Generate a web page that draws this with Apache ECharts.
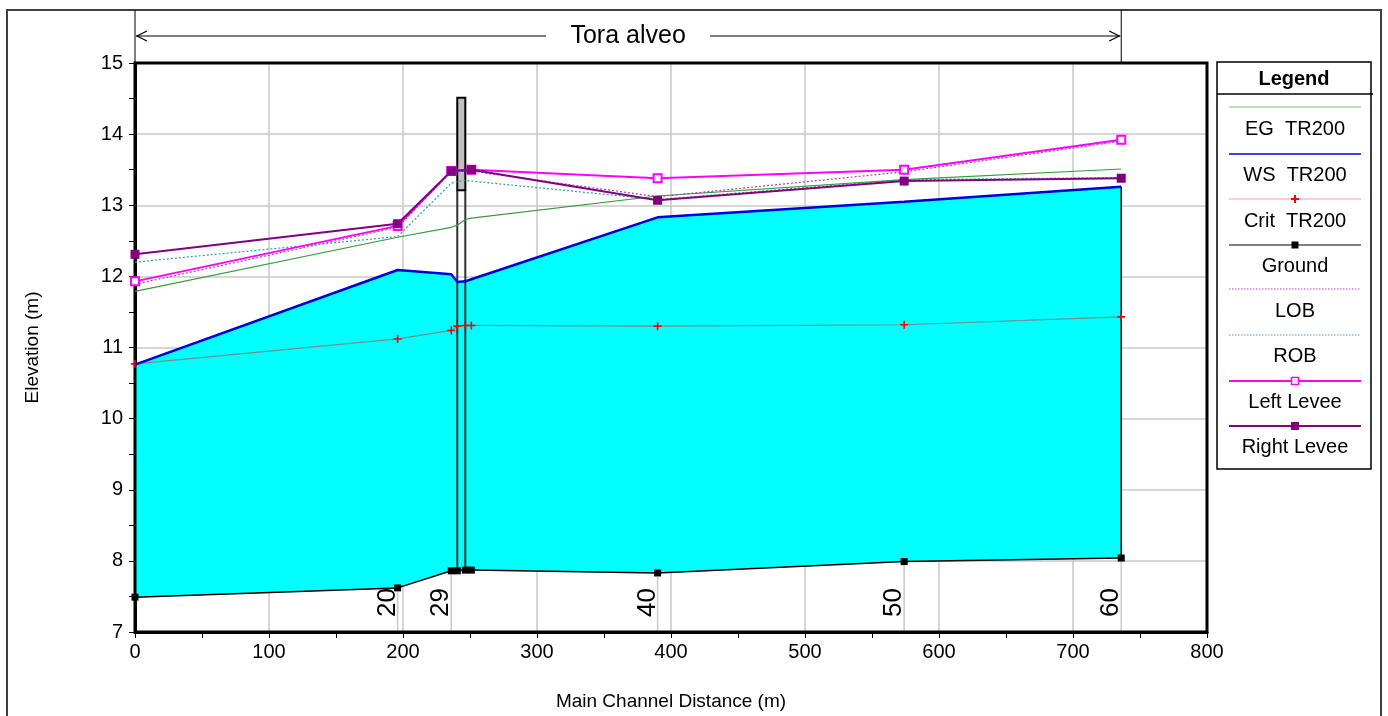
<!DOCTYPE html>
<html><head><meta charset="utf-8">
<script src="https://cdn.jsdelivr.net/npm/echarts@6/dist/echarts.min.js"></script>
<style>html,body{margin:0;padding:0;background:#fff}#c{width:1388px;height:716px}</style>
</head><body><div id="c"></div>
<script>
// ---------------- data ----------------
const stations   = [0, 196, 236, 240.5, 246.5, 251, 390, 574, 736];
const ground     = [7.49, 7.62, 7.86, 7.86, 7.87, 7.87, 7.83, 7.99, 8.04];
const wsTR200    = [10.76, 12.09, 12.03, 11.92, 11.93, 11.96, 12.83, 13.05, 13.26];
const critTR200  = [10.77, 11.12, 11.24, 11.30, 11.31, 11.31, 11.30, 11.32, 11.43];
const egTR200    = [11.79, 12.55, 12.69, 12.72, 12.80, 12.82, 13.13, 13.36, 13.51];
const lob        = [11.89, 12.69, 13.47, 13.47, 13.48, 13.48, 13.12, 13.47, 13.90];
const rob        = [12.20, 12.56, 13.31, 13.33, 13.35, 13.34, 13.08, 13.36, 13.39];
const leftLevee  = [11.93, 12.71, 13.48, null, null, 13.50, 13.38, 13.50, 13.92];
const rightLevee = [12.31, 12.74, 13.48, null, null, 13.50, 13.07, 13.34, 13.38];
const bridgeX    = [240.5, 246.5];
const bridgeDeck = [13.21, 14.51];
const stationLabels = ['20', '29', '40', '50', '60'];
const stationLabelX = [196, 236, 390, 574, 736];
const reachName  = 'Tora alveo';
const reachRange = [0, 736];
const seriesNames = ['EG  TR200', 'WS  TR200', 'Crit  TR200', 'Ground', 'LOB', 'ROB', 'Left Levee', 'Right Levee'];
const xRange = [0, 800], xStep = 100;
const yRange = [7, 15], yStep = 1;

// ---------------- chart ----------------
const FONT = '"Liberation Sans", Arial, Helvetica, sans-serif';
const chart = echarts.init(document.getElementById('c'), null, {renderer: 'canvas'});
const pair = arr => stations.map((s, i) => [s, arr[i]]);
const gAt = x => ground[stations.indexOf(x)];

const plusPath = 'path://M4,0H6V4H10V6H6V10H4V6H0V4H4Z';
const styles = {
  'EG  TR200':   {color: '#3a9a3a', width: 1.2, type: 'solid', symbol: 'none'},
  'WS  TR200':   {color: '#0000dd', width: 2.5, type: 'solid', symbol: 'none'},
  'Crit  TR200': {color: 'rgba(255,0,0,0.45)', width: 1.2, type: 'solid', symbol: plusPath, size: 8, sColor: '#ff0000'},
  'Ground':      {color: '#000000', width: 1.5, type: 'solid', symbol: 'rect', size: 7, sColor: '#000000'},
  'LOB':         {color: '#b040b0', width: 1.2, type: [2, 2], symbol: 'none'},
  'ROB':         {color: '#30a0a0', width: 1.2, type: [2, 2], symbol: 'none'},
  'Left Levee':  {color: '#ff00ff', width: 2, type: 'solid', symbol: 'emptyRect', size: 8, sColor: '#ff00ff'},
  'Right Levee': {color: '#800080', width: 2, type: 'solid', symbol: 'rect', size: 9, sColor: '#800080'}
};
const seriesData = {
  'EG  TR200': egTR200, 'WS  TR200': wsTR200, 'Crit  TR200': critTR200, 'Ground': ground,
  'LOB': lob, 'ROB': rob, 'Left Levee': leftLevee, 'Right Levee': rightLevee
};
const drawOrder = ['Crit  TR200', 'Ground', 'WS  TR200', 'EG  TR200', 'LOB', 'ROB', 'Left Levee', 'Right Levee'];

const lineSeries = drawOrder.map((name, k) => {
  const st = styles[name];
  return {
    type: 'line', name: name, data: pair(seriesData[name]), connectNulls: true,
    symbol: st.symbol, symbolSize: st.size || 0, showSymbol: st.symbol !== 'none',
    lineStyle: {color: st.color, width: st.width, type: st.type},
    itemStyle: {color: st.sColor || st.color, borderWidth: st.symbol === 'emptyRect' ? 1.5 : 0, borderColor: st.sColor || st.color},
    z: 5 + k, animation: false, silent: true
  };
});

const option = {
  backgroundColor: '#ffffff',
  animation: false,
  grid: {left: 135, right: 181, top: 63, bottom: 83, show: false},
  xAxis: {
    type: 'value', min: xRange[0], max: xRange[1], interval: xStep,
    name: 'Main Channel Distance (m)', nameLocation: 'middle', nameGap: 60,
    nameTextStyle: {fontFamily: FONT, fontSize: 19, color: '#000'},
    axisLine: {show: true, onZero: false, lineStyle: {color: '#000', width: 3}},
    axisTick: {show: true, length: 6, lineStyle: {color: '#000', width: 1}},
    minorTick: {show: true, splitNumber: 2, length: 6, lineStyle: {color: '#000', width: 1}},
    axisLabel: {fontFamily: FONT, fontSize: 20, color: '#000', margin: 10},
    splitLine: {show: true, lineStyle: {color: '#c8c8c8', width: 1.5}}
  },
  yAxis: {
    type: 'value', min: yRange[0], max: yRange[1], interval: yStep,
    name: 'Elevation (m)', nameLocation: 'middle', nameGap: 93,
    nameTextStyle: {fontFamily: FONT, fontSize: 19, color: '#000'},
    axisLine: {show: true, onZero: false, lineStyle: {color: '#000', width: 3}},
    axisTick: {show: true, length: 6, lineStyle: {color: '#000', width: 1}},
    minorTick: {show: true, splitNumber: 2, length: 6, lineStyle: {color: '#000', width: 1}},
    axisLabel: {fontFamily: FONT, fontSize: 20, color: '#000', margin: 12},
    splitLine: {show: true, lineStyle: {color: '#c8c8c8', width: 1.5}}
  },
  series: [
    {
      type: 'custom', name: 'fill', silent: true, z: 1,
      data: stations.map((s, i) => [s, ground[i], wsTR200[i]]),
      encode: {x: 0, y: [1, 2]},
      renderItem: (params, api) => {
        if (params.dataIndex !== 0) return null;
        const top = stations.map((s, i) => api.coord([s, wsTR200[i]]));
        const bot = stations.map((s, i) => api.coord([s, ground[i]])).reverse();
        const last = top.length - 1;
        return {type: 'group', children: [
          {type: 'polygon', shape: {points: top.concat(bot)}, style: {fill: '#00ffff', stroke: null}},
          {type: 'line', shape: {x1: top[last][0], y1: top[last][1], x2: bot[0][0], y2: bot[0][1]}, style: {stroke: '#000', lineWidth: 1.5}}
        ]};
      }
    },
    {
      type: 'custom', name: 'stations', silent: true, z: 2,
      data: stationLabelX.map((x, i) => [x, gAt(x), i]),
      encode: {x: 0, y: 1},
      renderItem: (params, api) => {
        const x = api.value(0), g = api.value(1), i = api.value(2);
        const p1 = api.coord([x, g]);
        const p2 = api.coord([x, yRange[0]]);
        return {type: 'group', children: [
          {type: 'line', shape: {x1: p1[0], y1: p1[1] + 4, x2: p2[0], y2: p2[1]}, style: {stroke: '#c8c8c8', lineWidth: 1.5}},
          {type: 'text', x: p2[0] + 3, y: p2[1] - 15, rotation: Math.PI / 2,
           style: {text: stationLabels[i], fontFamily: FONT, fontSize: 26, fill: '#000', align: 'left', verticalAlign: 'bottom'}}
        ]};
      }
    },
    {
      type: 'custom', name: 'bridge', silent: true, z: 3,
      data: [[bridgeX[0], gAt(bridgeX[0]), bridgeDeck[1]]],
      encode: {x: 0, y: [1, 2]},
      renderItem: (params, api) => {
        const a = api.coord([bridgeX[0], bridgeDeck[1]]);
        const b = api.coord([bridgeX[1], bridgeDeck[0]]);
        const g0 = api.coord([bridgeX[0], gAt(bridgeX[0])]);
        const g1 = api.coord([bridgeX[1], gAt(bridgeX[1])]);
        return {type: 'group', children: [
          {type: 'line', shape: {x1: g0[0], y1: g0[1], x2: g0[0], y2: b[1]}, style: {stroke: '#303030', lineWidth: 2}},
          {type: 'line', shape: {x1: g1[0], y1: g1[1], x2: g1[0], y2: b[1]}, style: {stroke: '#303030', lineWidth: 2}},
          {type: 'rect', shape: {x: a[0], y: a[1], width: b[0] - a[0], height: b[1] - a[1]}, style: {fill: '#c0c0c0', stroke: '#000', lineWidth: 2}}
        ]};
      }
    }
  ].concat(lineSeries)
};
chart.setOption(option);

// ---------------- decorations: frame, reach title, legend ----------------
const px0 = chart.convertToPixel({xAxisIndex: 0}, reachRange[0]);
const px1 = chart.convertToPixel({xAxisIndex: 0}, reachRange[1]);
const gxL = chart.convertToPixel({xAxisIndex: 0}, xRange[0]);
const gxR = chart.convertToPixel({xAxisIndex: 0}, xRange[1]);
const gyT = chart.convertToPixel({yAxisIndex: 0}, yRange[1]);
const gyB = chart.convertToPixel({yAxisIndex: 0}, yRange[0]);
const midX = (px0 + px1) / 2;
const titleY = 36, titleHalf = 82;
const g = [];
g.push({type: 'rect', shape: {x: gxL, y: gyT, width: gxR - gxL, height: gyB - gyT}, style: {fill: null, stroke: '#000', lineWidth: 3}, z: 4});
g.push({type: 'rect', shape: {x: 7, y: 10, width: 1374, height: 720}, style: {fill: null, stroke: '#404040', lineWidth: 2}, z: 100});
g.push({type: 'line', shape: {x1: px0, y1: 10, x2: px0, y2: gyT}, style: {stroke: '#000', lineWidth: 1}, z: 100});
g.push({type: 'line', shape: {x1: px1, y1: 10, x2: px1, y2: gyT}, style: {stroke: '#000', lineWidth: 1}, z: 100});
g.push({type: 'line', shape: {x1: px0 + 1, y1: titleY, x2: midX - titleHalf, y2: titleY}, style: {stroke: '#000', lineWidth: 1}, z: 100});
g.push({type: 'line', shape: {x1: midX + titleHalf, y1: titleY, x2: px1 - 1, y2: titleY}, style: {stroke: '#000', lineWidth: 1}, z: 100});
g.push({type: 'polyline', shape: {points: [[px0 + 12, titleY - 5], [px0 + 2, titleY], [px0 + 12, titleY + 5]]}, style: {stroke: '#000', lineWidth: 1.2, fill: null}, z: 100});
g.push({type: 'polyline', shape: {points: [[px1 - 12, titleY - 5], [px1 - 2, titleY], [px1 - 12, titleY + 5]]}, style: {stroke: '#000', lineWidth: 1.2, fill: null}, z: 100});
g.push({type: 'text', x: midX, y: titleY, style: {text: reachName, fontFamily: FONT, fontSize: 25, fill: '#000', align: 'center', verticalAlign: 'middle'}, z: 100});

// legend box
const LX = 1217, LW = 154, LT = 62, LB = 469, LH = 94;
g.push({type: 'rect', shape: {x: LX, y: LT, width: LW, height: LB - LT}, style: {fill: '#fff', stroke: '#000', lineWidth: 1.5}, z: 100});
g.push({type: 'line', shape: {x1: LX, y1: LH, x2: LX + LW + 2, y2: LH}, style: {stroke: '#000', lineWidth: 1.5}, z: 101});
g.push({type: 'text', x: LX + LW / 2, y: (LT + LH) / 2 + 1, style: {text: 'Legend', fontFamily: FONT, fontSize: 20, fontWeight: 'bold', fill: '#000', align: 'center', verticalAlign: 'middle'}, z: 101});
const legLineY = [107, 154, 199, 245, 289, 335, 381, 426];
const legTextY = [129, 175, 221, 266, 311, 356, 402, 447];
const legColor = {'EG  TR200': '#7fc07f', 'Crit  TR200': '#f4a0a0', 'LOB': '#c040c0', 'ROB': '#40b0b0'};
seriesNames.forEach((name, i) => {
  const st = styles[name];
  const ly = legLineY[i];
  g.push({type: 'line', shape: {x1: LX + 12, y1: ly, x2: LX + LW - 10, y2: ly},
    style: {stroke: legColor[name] || st.color, lineWidth: name === 'WS  TR200' ? 1.5 : (name === 'Left Levee' || name === 'Right Levee' ? 2 : 1.2), lineDash: Array.isArray(st.type) ? [1.5, 1.5] : null}, z: 101});
  const cx = LX + LW / 2 + 1;
  if (name === 'Crit  TR200') {
    g.push({type: 'line', shape: {x1: cx - 4, y1: ly, x2: cx + 4, y2: ly}, style: {stroke: '#f00', lineWidth: 2}, z: 102});
    g.push({type: 'line', shape: {x1: cx, y1: ly - 4, x2: cx, y2: ly + 4}, style: {stroke: '#f00', lineWidth: 2}, z: 102});
  } else if (name === 'Ground') {
    g.push({type: 'rect', shape: {x: cx - 3.5, y: ly - 3.5, width: 7, height: 7}, style: {fill: '#000'}, z: 102});
  } else if (name === 'Left Levee') {
    g.push({type: 'rect', shape: {x: cx - 3.5, y: ly - 3.5, width: 7, height: 7}, style: {fill: '#fff', stroke: '#ff00ff', lineWidth: 1.5}, z: 102});
  } else if (name === 'Right Levee') {
    g.push({type: 'rect', shape: {x: cx - 4, y: ly - 4, width: 8, height: 8}, style: {fill: '#800080'}, z: 102});
  }
  g.push({type: 'text', x: cx, y: legTextY[i], style: {text: name, fontFamily: FONT, fontSize: 20, fill: '#000', align: 'center', verticalAlign: 'middle'}, z: 101});
});
chart.setOption({graphic: g});
</script>
</body></html>
